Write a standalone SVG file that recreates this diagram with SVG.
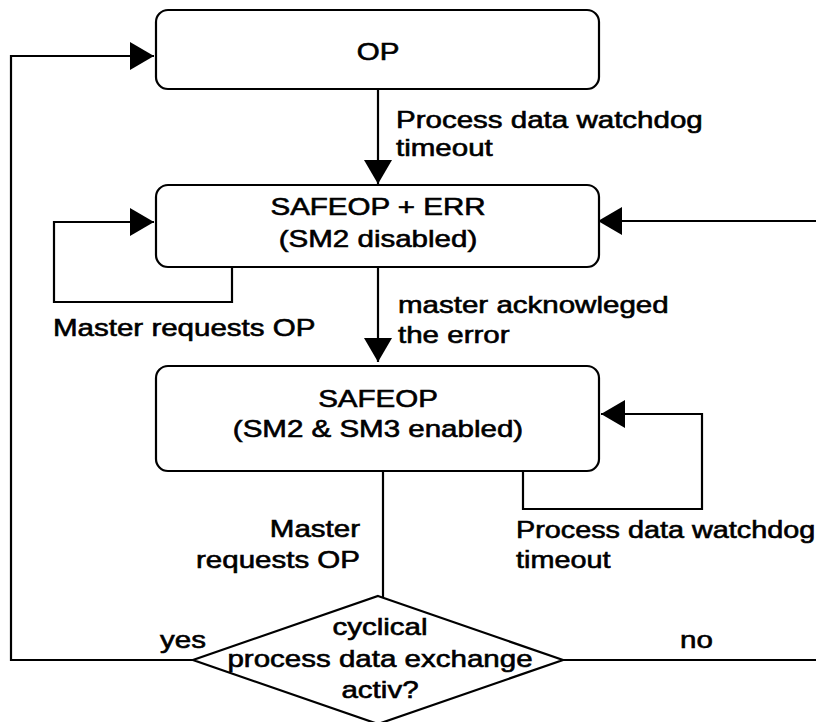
<svg xmlns="http://www.w3.org/2000/svg" width="816" height="722" viewBox="0 0 816 722">
<style>
.box{fill:#fff;stroke:#000;stroke-width:2.2}
.ln{fill:none;stroke:#000;stroke-width:2.2;stroke-linejoin:miter}
text{font-family:"Liberation Sans",Arial,sans-serif;font-size:24px;fill:#000;stroke:#000;stroke-width:0.6}
.c{text-anchor:middle}
.e{text-anchor:end}
</style>
<defs>
<marker id="ah" viewBox="0 0 24 28" refX="24" refY="14" markerWidth="24" markerHeight="28" markerUnits="userSpaceOnUse" orient="auto">
<path d="M0,0 L24,14 L0,28 Z" fill="#000"/>
</marker>
</defs>
<rect width="816" height="722" fill="#fff"/>
<g id="connectors">
<line class="ln" x1="378" y1="89" x2="378" y2="184" marker-end="url(#ah)"/>
<line class="ln" x1="378" y1="267" x2="378" y2="362" marker-end="url(#ah)"/>
<polyline class="ln" points="232,267 232,302 54,302 54,222 154,222" marker-end="url(#ah)"/>
<line class="ln" x1="816" y1="221" x2="598" y2="221" marker-end="url(#ah)"/>
<polyline class="ln" points="523,471 523,509 702,509 702,414 601,414" marker-end="url(#ah)"/>
<line class="ln" x1="383" y1="471" x2="383" y2="597"/>
<polyline class="ln" points="193,660 11,660 11,56 154,56" marker-end="url(#ah)"/>
<line class="ln" x1="563" y1="660" x2="816" y2="660"/>
<text transform="translate(396 128) scale(1.23 1)">Process data watchdog</text>
<text transform="translate(396 156) scale(1.23 1)">timeout</text>
<text transform="translate(53 336) scale(1.23 1)">Master requests OP</text>
<text transform="translate(398 313) scale(1.23 1)">master acknowleged</text>
<text transform="translate(398 343) scale(1.23 1)">the error</text>
<text transform="translate(516 538) scale(1.2 1)">Process data watchdog</text>
<text transform="translate(516 568) scale(1.2 1)">timeout</text>
<text class="e" transform="translate(360 537) scale(1.23 1)">Master</text>
<text class="e" transform="translate(360 568) scale(1.23 1)">requests OP</text>
<text transform="translate(160 648) scale(1.23 1)">yes</text>
<text transform="translate(680 648) scale(1.23 1)">no</text>
</g>
<g id="op">
<rect class="box" x="156" y="10" width="443" height="79" rx="12"/>
<text class="c" transform="translate(378 60) scale(1.23 1)">OP</text>
</g>
<g id="safeop-err">
<rect class="box" x="156" y="185" width="443" height="82" rx="12"/>
<text class="c" transform="translate(378 215) scale(1.23 1)">SAFEOP + ERR</text>
<text class="c" transform="translate(378 247) scale(1.23 1)">(SM2 disabled)</text>
</g>
<g id="safeop">
<rect class="box" x="156" y="366" width="443" height="105" rx="12"/>
<text class="c" transform="translate(378 407) scale(1.23 1)">SAFEOP</text>
<text class="c" transform="translate(378 437) scale(1.23 1)">(SM2 &amp; SM3 enabled)</text>
</g>
<g id="decision">
<polygon class="box" points="378,596 563,660 378,724 193,660"/>
<text class="c" transform="translate(380 635) scale(1.23 1)">cyclical</text>
<text class="c" transform="translate(380 667) scale(1.23 1)">process data exchange</text>
<text class="c" transform="translate(380 698) scale(1.23 1)">activ?</text>
</g>
</svg>
